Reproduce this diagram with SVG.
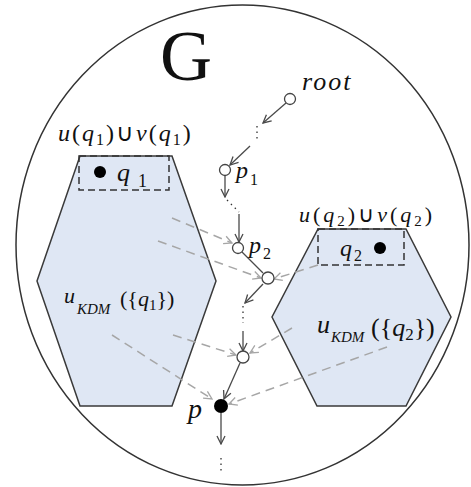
<svg xmlns="http://www.w3.org/2000/svg" width="471" height="487" viewBox="0 0 471 487">
<style>
.t{font-family:"Liberation Serif","Times New Roman",serif;fill:#111}
.i{font-style:italic}
.hex{fill:#dfe7f4;stroke:#3a3a3a;stroke-width:1.5}
.dbox{fill:none;stroke:#333;stroke-width:1.5;stroke-dasharray:7 4}
.gd{fill:none;stroke:#a6a6a6;stroke-width:1.5;stroke-dasharray:9 6}
.sl{fill:none;stroke:#4a4a4a;stroke-width:1.3}
.dot{fill:none;stroke:#333;stroke-width:1.3;stroke-dasharray:1.5 4}
.node{fill:#fff;stroke:#444;stroke-width:1.3}
</style>
<defs>
<marker id="ah" markerWidth="10" markerHeight="10" refX="9" refY="5" orient="auto" markerUnits="userSpaceOnUse">
<path d="M1,1 L9,5 L1,9" fill="none" stroke="#4a4a4a" stroke-width="1.3"/>
</marker>
<marker id="ahg" markerWidth="10" markerHeight="10" refX="9" refY="5" orient="auto" markerUnits="userSpaceOnUse">
<path d="M1,1 L9,5 L1,9" fill="none" stroke="#a6a6a6" stroke-width="1.3"/>
</marker>
</defs>
<rect width="471" height="487" fill="#fff"/>
<g id="graph">
<ellipse cx="242.5" cy="245" rx="226.5" ry="240" fill="#fff" stroke="#333" stroke-width="1.5"/>
<text class="t" x="160" y="80" font-size="72">G</text>
</g>
<g id="set-q1">
<polygon class="hex" points="80,156 172,156 216,281 172,406 80,406 37,281"/>
<rect class="dbox" x="79" y="156" width="90" height="34"/>
<circle cx="100" cy="172" r="6" fill="#000"/>
<text class="t" font-size="26"><tspan class="i" x="117" y="181">q</tspan><tspan font-size="18" x="138" y="187">1</tspan></text>
<text class="t" x="58" y="141" font-size="24" letter-spacing="2"><tspan class="i">u</tspan>(<tspan class="i">q</tspan><tspan font-size="16" dy="4">1</tspan><tspan dy="-4">)∪</tspan><tspan class="i">v</tspan>(<tspan class="i">q</tspan><tspan font-size="16" dy="4">1</tspan><tspan dy="-4">)</tspan></text>
<text class="t" font-size="22"><tspan class="i" x="64" y="303">u</tspan><tspan class="i" font-size="15" x="77" y="314">KDM</tspan><tspan x="120" y="306">({</tspan><tspan class="i">q</tspan><tspan font-size="15" dy="4">1</tspan><tspan dy="-4">})</tspan></text>
</g>
<g id="set-q2">
<polygon class="hex" points="318,229 406,229 451,317 406,406 317,406 272,317"/>
<rect class="dbox" x="318" y="229" width="86" height="36"/>
<circle cx="380" cy="248" r="6" fill="#000"/>
<text class="t" font-size="24"><tspan class="i" x="340" y="256">q</tspan><tspan font-size="16" x="354" y="261">2</tspan></text>
<text class="t" x="299" y="222" font-size="22" letter-spacing="3"><tspan class="i">u</tspan>(<tspan class="i">q</tspan><tspan font-size="15" dy="4">2</tspan><tspan dy="-4">)∪</tspan><tspan class="i">v</tspan>(<tspan class="i">q</tspan><tspan font-size="15" dy="4">2</tspan><tspan dy="-4">)</tspan></text>
<text class="t" font-size="26"><tspan class="i" x="317" y="333">u</tspan><tspan class="i" font-size="15" x="331" y="342">KDM</tspan><tspan x="371" y="336">({</tspan><tspan class="i">q</tspan><tspan font-size="17" dy="4">2</tspan><tspan dy="-4">})</tspan></text>
</g>
<g id="connectors">
<path class="sl" d="M286,103 L263,123" marker-end="url(#ah)"/>
<path class="dot" d="M257,126 L257,142"/>
<path class="sl" d="M250,146 L230,165" marker-end="url(#ah)"/>
<path class="sl" d="M225,176 L225,197" marker-end="url(#ah)"/>
<path class="dot" d="M227,200 L239,212"/>
<path class="sl" d="M239,214 L239,242" marker-end="url(#ah)"/>
<path class="sl" d="M242,252 L263,273"/>
<path class="sl" d="M263,284 L245,303" marker-end="url(#ah)"/>
<path class="dot" d="M243,306 L243,323"/>
<path class="sl" d="M243,331 L243,351" marker-end="url(#ah)"/>
<path class="sl" d="M240,363 L224,399" marker-end="url(#ah)"/>
<path class="sl" d="M221,413 L221,444" marker-end="url(#ah)"/>
<path class="dot" d="M221,458 L221,473"/>
<path class="gd" d="M172,218 L232,243" marker-end="url(#ahg)"/>
<path class="gd" d="M158,241 L261,278" marker-end="url(#ahg)"/>
<path class="gd" d="M318,265 L274,279" marker-end="url(#ahg)"/>
<path class="gd" d="M173,335 L236,355" marker-end="url(#ahg)"/>
<path class="gd" d="M292,328 L250,353" marker-end="url(#ahg)"/>
<path class="gd" d="M112,335 L212,399" marker-end="url(#ahg)"/>
<path class="gd" d="M387,347 L229,404" marker-end="url(#ahg)"/>
</g>
<g id="node-root"><circle class="node" cx="290" cy="99" r="5.5"/><text class="t i" x="302" y="90" font-size="26" letter-spacing="2">root</text></g>
<g id="node-p1"><circle class="node" cx="225" cy="170" r="5.5"/><text class="t" font-size="24"><tspan class="i" x="236" y="178">p</tspan><tspan font-size="16" x="250" y="185">1</tspan></text></g>
<g id="node-p2"><circle class="node" cx="238" cy="248" r="5.5"/><text class="t" font-size="24"><tspan class="i" x="249" y="253">p</tspan><tspan font-size="16" x="263" y="259">2</tspan></text></g>
<g id="node-a"><circle class="node" cx="268" cy="278" r="6"/></g>
<g id="node-b"><circle class="node" cx="243" cy="357" r="6"/></g>
<g id="node-p"><circle cx="221" cy="406" r="7" fill="#000"/><text class="t i" x="188" y="418" font-size="28">p</text></g>
</svg>
